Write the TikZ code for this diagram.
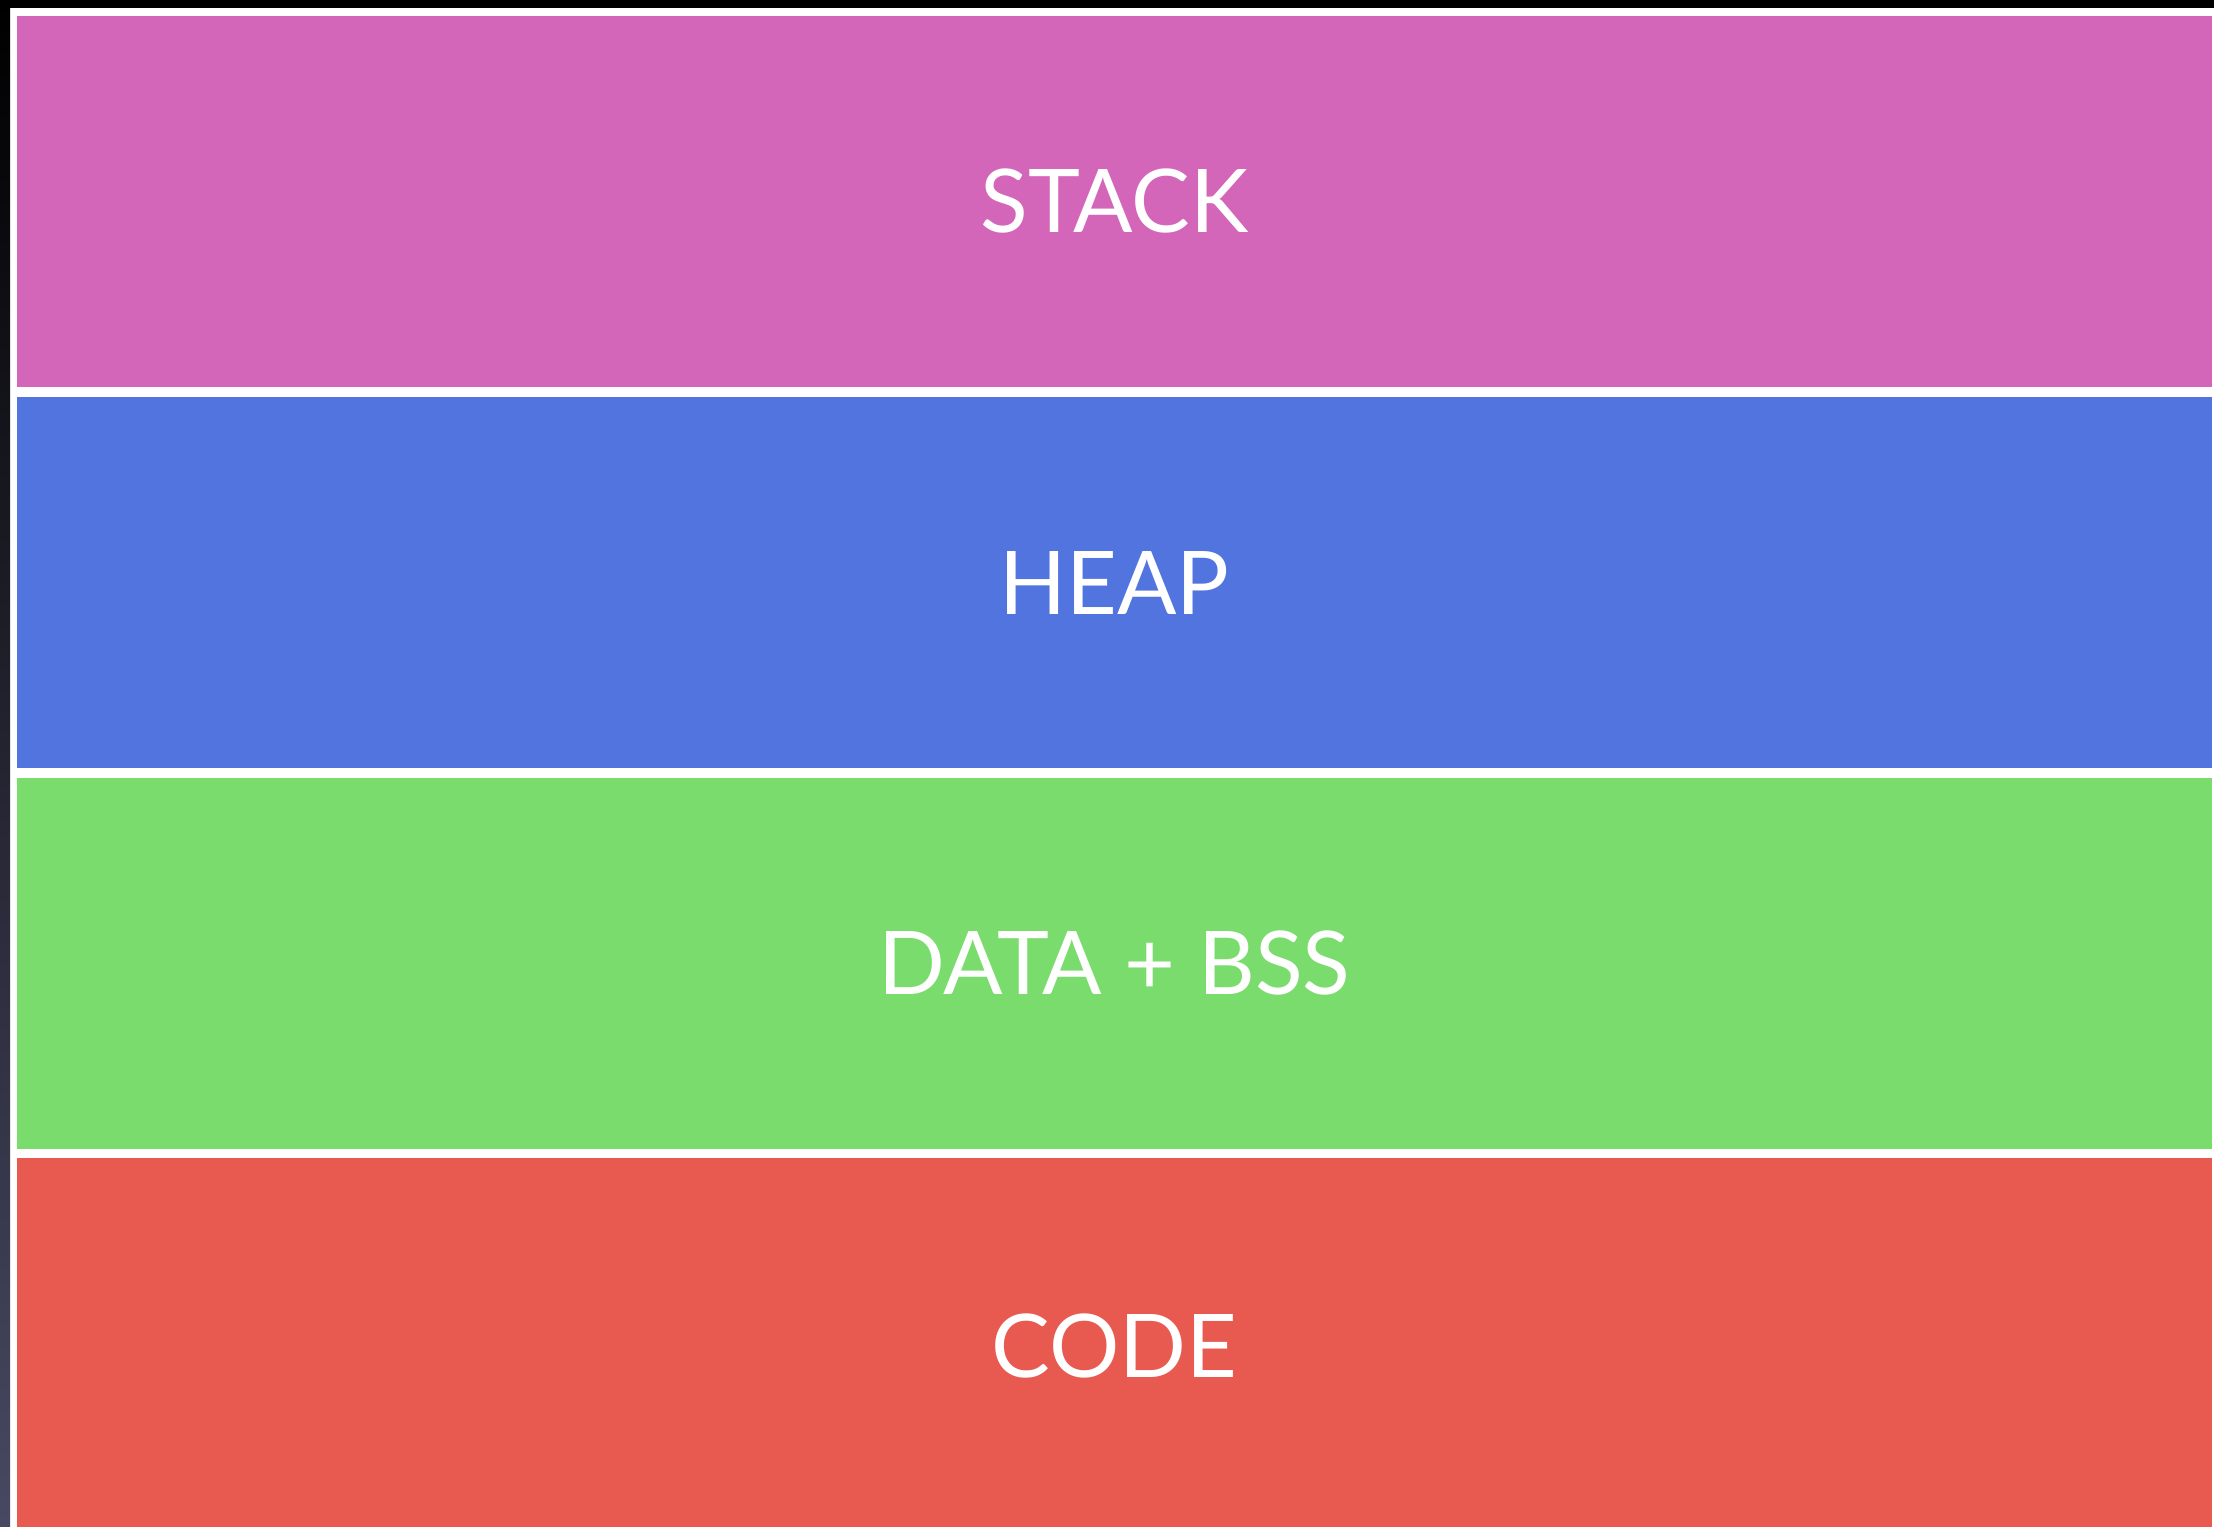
\documentclass[tikz,border=0pt]{standalone}
\usepackage{fontspec}
\setmainfont{Lato}
\usetikzlibrary{positioning}

\definecolor{stackpink}{RGB}{212,102,186}
\definecolor{heapblue}{RGB}{82,116,222}
\definecolor{datagreen}{RGB}{123,220,110}
\definecolor{codered}{RGB}{232,89,80}
\definecolor{bandgray}{RGB}{72,72,98}

\begin{document}
\begin{tikzpicture}[
        x=0.01cm, y=-0.01cm,
        segment/.style={rectangle, draw=none, inner sep=0pt, minimum width=21.93cm, minimum height=3.71cm, text=white, font=\fontsize{25}{30}\selectfont},
    ]
        % frame
        \useasboundingbox (0,0) rectangle (2214,1527);
        \fill[white] (0,0) rectangle (2214,1527);
        \fill[black] (0,0) rectangle (2214,8);
        \shade[top color=black, bottom color=bandgray] (0,0) rectangle (10,1527);

        % memory segments
        \node[segment, fill=stackpink] (stack) at (1114.5,201.5) {STACK};
        \node[segment, fill=heapblue, below=0.085cm of stack] (heap) {HEAP};
        \node[segment, fill=datagreen, below=0.08cm of heap] (data) {DATA + BSS};
        \node[segment, fill=codered, below=0.08cm of data, minimum height=3.75cm] (code) {CODE};
    \end{tikzpicture}
\end{document}
